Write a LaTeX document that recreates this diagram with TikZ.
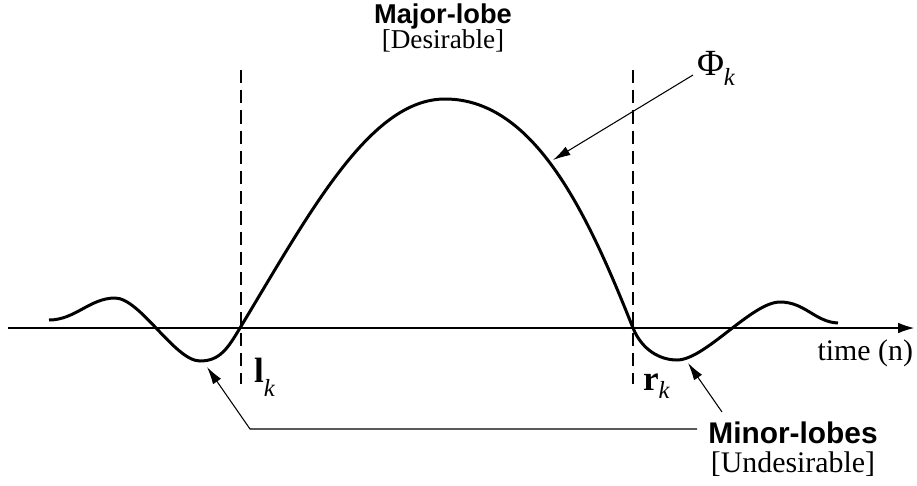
\documentclass[tikz,border=0pt]{standalone}
\usepackage{fontspec}
\setmainfont{Liberation Serif}
\setsansfont{Liberation Sans}
\usetikzlibrary{arrows.meta, positioning}

\begin{document}
\begin{tikzpicture}[x=0.02cm, y=-0.02cm,
  every node/.style={inner sep=0pt, outer sep=0pt},
  lobe/.style={font=\fontsize{15.5}{18}\selectfont\sffamily\bfseries},
  lobebig/.style={font=\fontsize{17}{20}\selectfont\sffamily\bfseries},
  note/.style={font=\fontsize{15.5}{18}\selectfont},
  notebig/.style={font=\fontsize{17}{20}\selectfont},
  pointer/.style={-{Latex[length=10pt,width=5.5pt]}, line width=0.6pt},
  bound/.style={dash pattern=on 7.5pt off 4pt, line width=0.7pt},
  signal/.style={line width=1.7pt, line join=round}]
  \useasboundingbox (0,0) rectangle (917,485);

  % axis and lobe boundaries
  \coordinate (axl) at (8,328);
  \coordinate (axr) at (914,328);
  \draw[line width=0.6pt, -{Latex[length=9pt,width=6pt]}] (axl) -- (axr);
  \coordinate (ltop) at (241,70);
  \coordinate (lbot) at (241,384);
  \coordinate (rtop) at (633,70);
  \coordinate (rbot) at (633,384);
  \draw[bound] (ltop) -- (lbot);
  \draw[bound] (rtop) -- (rbot);

  % the window
  \draw[signal] (49,320) .. controls (75,320) and (90,298) .. (115,298)
    .. controls (140,298) and (175,361) .. (200,361)
    .. controls (220,361) and (228,348) .. (240,328)
    .. controls (310,212) and (370,99) .. (445,99)
    .. controls (535,99) and (588,215) .. (633,328)
    .. controls (642,350) and (660,360) .. (677,360)
    .. controls (705,360) and (752,302) .. (780,302)
    .. controls (805,302) and (815,322) .. (838,323);

  % labels
  \node[lobe, anchor=base] (major) at (443,23) {Major-lobe};
  \node[note, anchor=base] (desire) at (443,48) {[Desirable]};
  \node[anchor=base west] (phi) at (697,75)
    {\fontsize{21}{24}\selectfont Φ\raisebox{-6pt}{\fontsize{14}{16}\selectfont\itshape k}};
  \node[anchor=base west] (lk) at (254,382)
    {\fontsize{20}{24}\selectfont\bfseries l\raisebox{-8pt}{\fontsize{14}{16}\selectfont\mdseries\itshape k}};
  \node[anchor=base west] (rk) at (643,390)
    {\fontsize{20}{24}\selectfont\bfseries r\raisebox{-5pt}{\fontsize{14}{16}\selectfont\mdseries\itshape k}};
  \node[notebig, anchor=base east] (timelab) at (913,360) {time (n)};
  \node[lobebig, anchor=base] (minor) at (793,443) {Minor-lobes};
  \node[notebig, anchor=base] (undesire) at (793,472) {[Undesirable]};

  % pointers
  \coordinate (phitip) at (553,160);
  \coordinate (lefttip) at (207,367);
  \coordinate (righttip) at (688,363);
  \coordinate (bend) at (250,429);
  \coordinate (minorfoot) at (697,429);
  \coordinate (minortop) at (722,412);
  \draw[pointer] ([xshift=-4*0.02cm]phi.base west) -- (phitip);
  \draw[pointer] (minorfoot) -- (bend) -- (lefttip);
  \draw[pointer] (minortop) -- (righttip);
\end{tikzpicture}
\end{document}
